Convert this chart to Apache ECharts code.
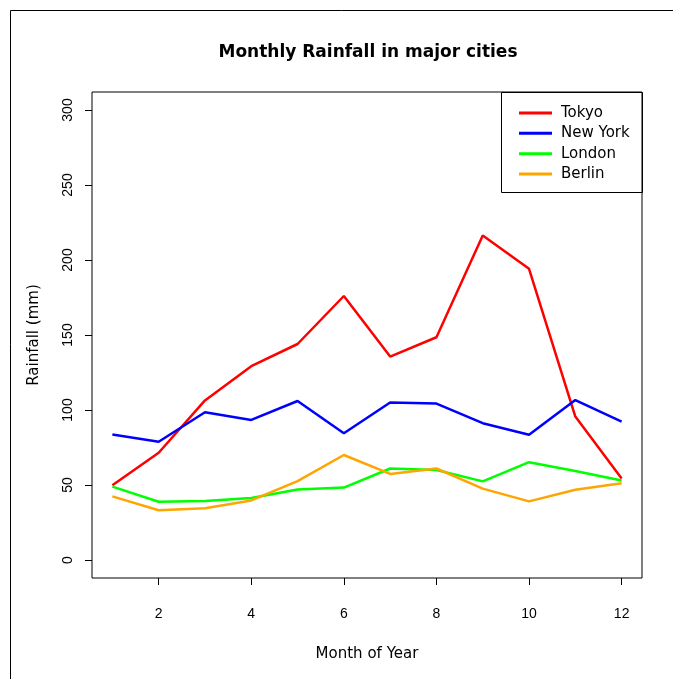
<!DOCTYPE html>
<html>
<head>
<meta charset="utf-8">
<title>Monthly Rainfall in major cities</title>
<script src="https://cdn.jsdelivr.net/npm/echarts@6/dist/echarts.min.js"></script>
<style>
  html, body { margin: 0; padding: 0; background: #fff; }
  #chart { width: 673px; height: 679px; }
</style>
</head>
<body>
<div id="chart"></div>
<script>
// Month numbers on the x axis
const months = [1, 2, 3, 4, 5, 6, 7, 8, 9, 10, 11, 12];

// Monthly rainfall (mm) per city
const tokyo   = [49.9, 71.5, 106.4, 129.2, 144.0, 176.0, 135.6, 148.5, 216.4, 194.1, 95.6, 54.4];
const newYork = [83.6, 78.8, 98.5, 93.4, 106.0, 84.5, 105.0, 104.3, 91.2, 83.5, 106.6, 92.3];
const london  = [48.9, 38.8, 39.3, 41.4, 47.0, 48.3, 61.0, 60.0, 52.4, 65.2, 59.3, 53.0];
const berlin  = [42.4, 33.2, 34.5, 39.7, 52.6, 70.0, 57.4, 61.0, 47.6, 39.1, 46.8, 51.1];

// Tick positions
const xTicks = [2, 4, 6, 8, 10, 12];
const yTicks = [0, 50, 100, 150, 200, 250, 300];

const cities = [
  { name: 'Tokyo',    values: tokyo,   color: '#ff0000' },
  { name: 'New York', values: newYork, color: '#0000ff' },
  { name: 'London',   values: london,  color: '#00ff00' },
  { name: 'Berlin',   values: berlin,  color: '#ffa500' }
];

const TEXT_FONT = '"DejaVu Sans", "Liberation Sans", sans-serif';
const TICK_FONT = '"Liberation Sans", Arial, sans-serif';

const chart = echarts.init(document.getElementById('chart'), null, { renderer: 'canvas' });

chart.setOption({
  animation: false,
  backgroundColor: '#ffffff',
  title: {
    text: 'Monthly Rainfall in major cities',
    left: 363,
    textAlign: 'center',
    top: 39,
    textStyle: { fontFamily: TEXT_FONT, fontWeight: 'bold', fontSize: 17, color: '#000' }
  },
  grid: {
    left: 92, right: 31, top: 92, bottom: 101,
    show: true, borderColor: '#000', borderWidth: 1, backgroundColor: 'transparent'
  },
  xAxis: {
    type: 'value',
    min: 0.56, max: 12.44,
    name: 'Month of Year',
    nameLocation: 'middle',
    nameGap: 69,
    nameTextStyle: { fontFamily: TEXT_FONT, fontSize: 15, color: '#000' },
    axisLine: { show: false, onZero: false },
    splitLine: { show: false },
    axisTick: { show: true, length: 7, inside: false, customValues: xTicks, lineStyle: { color: '#000' } },
    axisLabel: { customValues: xTicks, margin: 29, fontFamily: TICK_FONT, fontSize: 14, color: '#000' }
  },
  yAxis: {
    type: 'value',
    min: -12, max: 312,
    name: 'Rainfall (mm)',
    nameLocation: 'middle',
    nameGap: 50,
    nameRotate: 90,
    nameTextStyle: { fontFamily: TEXT_FONT, fontSize: 15, color: '#000' },
    axisLine: { show: false, onZero: false },
    splitLine: { show: false },
    axisTick: { show: true, length: 7, inside: false, customValues: yTicks, lineStyle: { color: '#000' } },
    axisLabel: { customValues: yTicks, rotate: 90, margin: 17, fontFamily: TICK_FONT, fontSize: 14, color: '#000' }
  },
  legend: {
    orient: 'vertical',
    left: 514, top: 100.5,
    itemWidth: 33, itemHeight: 3, itemGap: 5.33,
    icon: 'rect',
    textStyle: { fontFamily: TEXT_FONT, fontSize: 15, lineHeight: 15, color: '#000', padding: [0, 0, 0, 4] },
    data: cities.map(c => c.name)
  },
  graphic: [
    // legend frame
    { type: 'rect', shape: { x: 501.5, y: 92.5, width: 141, height: 100 },
      style: { fill: 'none', stroke: '#000', lineWidth: 1 }, z: 10 },
    // outer figure frame
    { type: 'polyline', shape: { points: [[10.5, 679], [10.5, 10.5], [673, 10.5]] },
      style: { fill: 'none', stroke: '#000', lineWidth: 1 }, z: 10 }
  ],
  series: cities.map(c => ({
    name: c.name,
    type: 'line',
    data: months.map((m, i) => [m, c.values[i]]),
    showSymbol: false,
    symbol: 'none',
    color: c.color,
    lineStyle: { color: c.color, width: 2.5 }
  }))
});
</script>
</body>
</html>
